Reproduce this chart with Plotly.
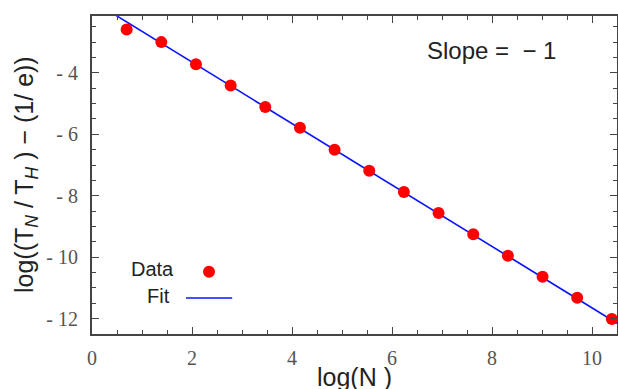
import plotly.graph_objects as go

# ---- data ----
log_n = [0.693, 1.386, 2.079, 2.773, 3.466, 4.159, 4.852, 5.545,
         6.238, 6.931, 7.625, 8.318, 9.011, 9.704, 10.397]
log_t = [-2.59, -3.00, -3.72, -4.41, -5.11, -5.79, -6.50, -7.19,
         -7.88, -8.56, -9.25, -9.95, -10.64, -11.32, -12.01]
fit_x = [0.0, 10.5]
fit_y = [-1.65, -12.15]

x_tickvals = [0, 2, 4, 6, 8, 10]
x_ticktext = ["0", "2", "4", "6", "8", "10"]
y_tickvals = [-4, -6, -8, -10, -12]
y_ticktext = ["- 4", "- 6", "- 8", "- 10", "- 12"]

SANS = "Liberation Sans, Arial, sans-serif"
SERIF = "Liberation Serif, Times New Roman, serif"
AXC = "#444444"

fig = go.Figure()
fig.add_trace(go.Scatter(x=fit_x, y=fit_y, mode="lines",
                         line=dict(color="#0a14ff", width=1.6), name="Fit",
                         showlegend=False, cliponaxis=True))
fig.add_trace(go.Scatter(x=log_n, y=log_t, mode="markers",
                         marker=dict(color="#ff0000", size=12), name="Data",
                         showlegend=False, cliponaxis=False))

axis_common = dict(showline=True, linecolor=AXC, linewidth=2, mirror="ticks",
                   ticks="inside", ticklen=7, tickwidth=1, tickcolor=AXC,
                   showgrid=False, zeroline=False, automargin=False,
                   tickfont=dict(family=SERIF, size=20, color="#555555"))

fig.update_layout(
    width=618, height=389,
    margin=dict(l=92, r=1, t=16, b=55, autoexpand=False),
    paper_bgcolor="white", plot_bgcolor="white",
    xaxis=dict(range=[0, 10.5], tickvals=x_tickvals, ticktext=x_ticktext,
               minor=dict(dtick=0.5, tick0=0, ticks="inside", ticklen=4,
                          tickwidth=1, tickcolor=AXC),
               ticklabelstandoff=5, **axis_common),
    yaxis=dict(range=[-12.5, -2.15], tickvals=y_tickvals, ticktext=y_ticktext,
               minor=dict(dtick=0.5, tick0=0, ticks="inside", ticklen=4,
                          tickwidth=1, tickcolor=AXC),
               ticklabelstandoff=8, **axis_common),
    showlegend=False,
)

# axis titles
fig.add_annotation(text="log(N )", xref="paper", yref="paper", x=0.5, y=0,
                   xanchor="center", yanchor="middle", yshift=-43, showarrow=False,
                   font=dict(family=SANS, size=25, color="#222222"))
fig.add_annotation(text="log((T<sub><i>N</i></sub> / T<sub><i>H</i></sub> ) \u2212 (1/ e))",
                   xref="paper", yref="paper", x=0, y=0.5, xanchor="center",
                   yanchor="middle", xshift=-66, textangle=-90, showarrow=False,
                   font=dict(family=SANS, size=25, color="#222222"))
# slope label
fig.add_annotation(text="Slope =  \u2212 1", xref="paper", yref="paper", x=0.76, y=0.893,
                   xanchor="center", yanchor="middle", showarrow=False,
                   font=dict(family=SANS, size=24, color="#222222"))
# legend
fig.add_annotation(text="Data", xref="paper", yref="paper", x=0.160, y=0.204,
                   xanchor="right", yanchor="middle", showarrow=False,
                   font=dict(family=SANS, size=20, color="#222222"))
fig.add_annotation(text="Fit", xref="paper", yref="paper", x=0.153, y=0.12,
                   xanchor="right", yanchor="middle", showarrow=False,
                   font=dict(family=SANS, size=20, color="#222222"))
fig.add_shape(type="circle", xref="paper", yref="paper", xsizemode="pixel",
              ysizemode="pixel", xanchor=0.2229, yanchor=0.196,
              x0=-6, x1=6, y0=-6, y1=6, fillcolor="#ff0000", line=dict(width=0))
fig.add_shape(type="line", xref="paper", yref="paper", x0=0.179, x1=0.267,
              y0=0.113, y1=0.113, line=dict(color="#0a14ff", width=1.6))

fig.write_html("out.html",
               config={"displayModeBar": False},
               post_script="document.body.style.margin='0';"
                           "document.body.style.overflow='hidden';")
